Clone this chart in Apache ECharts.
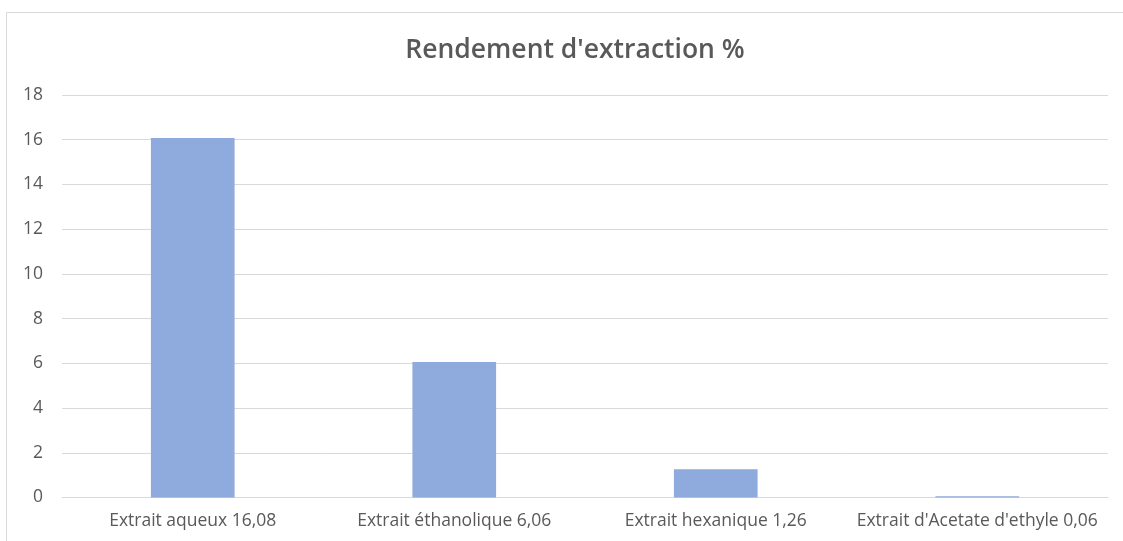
<!DOCTYPE html>
<html>
<head>
<meta charset="utf-8">
<script src="https://cdn.jsdelivr.net/npm/echarts@6/dist/echarts.min.js"></script>
<style>
  html, body { margin: 0; padding: 0; background: #ffffff; }
  #chart { width: 1123px; height: 541px; }
</style>
</head>
<body>
<div id="chart"></div>
<script>
// Extraction yield per solvent (%)
const categories = [
  "Extrait aqueux 16,08",
  "Extrait éthanolique 6,06",
  "Extrait hexanique 1,26",
  "Extrait d'Acetate d'ethyle 0,06"
];
const yieldValues = [16.08, 6.06, 1.26, 0.06];
const titleText = "Rendement d'extraction %";

const textColor = "#595959";
const gridColor = "#d9d9d9";
const barColor = "#8faadc";
const fontFamily = "'Open Sans', 'Liberation Sans', sans-serif";

const chart = echarts.init(document.getElementById("chart"), null, { renderer: "canvas" });
chart.setOption({
  animation: false,
  backgroundColor: "#ffffff",
  graphic: [{
    type: "rect",
    shape: { x: 6.5, y: 12.5, width: 1140, height: 560 },
    style: { fill: "none", stroke: gridColor, lineWidth: 1 },
    silent: true,
    z: -1
  }],
  title: {
    text: titleText,
    left: 570,
    top: 32,
    textAlign: "center",
    textStyle: { color: textColor, fontSize: 26.5, fontWeight: 600, fontFamily: fontFamily }
  },
  grid: { left: 62, right: 15, top: 95, bottom: 43.5, containLabel: false },
  xAxis: {
    type: "category",
    data: categories,
    axisLine: { show: true, lineStyle: { color: gridColor, width: 1 } },
    axisTick: { show: false },
    axisLabel: { color: textColor, fontSize: 17.5, fontFamily: fontFamily, margin: 15, interval: 0 }
  },
  yAxis: {
    type: "value",
    min: 0,
    max: 18,
    interval: 2,
    axisLine: { show: false },
    axisTick: { show: false },
    splitLine: { lineStyle: { color: gridColor, width: 1 } },
    axisLabel: { color: textColor, fontSize: 17.5, fontFamily: fontFamily, margin: 19 }
  },
  series: [{
    type: "bar",
    data: yieldValues,
    barWidth: "32%",
    itemStyle: { color: barColor }
  }]
});
</script>
</body>
</html>
